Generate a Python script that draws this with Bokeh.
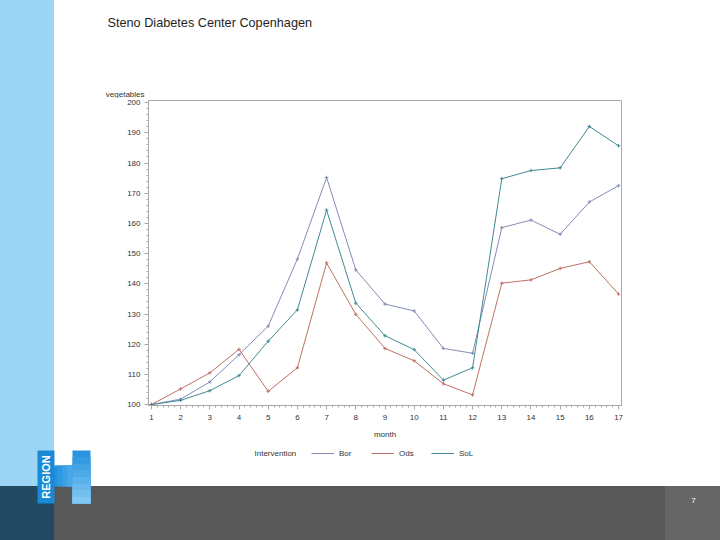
import math
from bokeh.plotting import figure
from bokeh.layouts import column
from bokeh.models import Range1d, FixedTicker, BoxAnnotation, Label, Legend, LegendItem
from bokeh.embed import file_html
from bokeh.resources import INLINE

# ---- data ----
months = list(range(1, 18))
bor = [100.0, 101.8, 107.5, 116.5, 126.0, 148.2, 175.2, 144.6, 133.3, 131.0,
       118.6, 117.0, 158.6, 161.1, 156.4, 167.1, 172.5]
ods = [100.0, 105.2, 110.5, 118.3, 104.4, 112.2, 146.9, 129.9, 118.6, 114.5,
       106.9, 103.2, 140.2, 141.3, 145.1, 147.3, 136.6]
sol = [100.0, 101.4, 104.6, 109.6, 121.0, 131.4, 164.4, 133.6, 122.8, 118.2,
       108.1, 112.2, 174.8, 177.5, 178.4, 192.1, 185.7]
series_names = ["Bor", "Ods", "SoL"]
series_values = [bor, ods, sol]
series_colors = ["#838cb6", "#bf7064", "#418a93"]
y_ticks = list(range(100, 201, 10))
x_ticks = months

FONT = "Liberation Sans"
TXT = "#333333"
GRAY = "#a8a8a8"
LIGHT_BLUE = "#9dd5f4"
DARK_BLUE = "#234a63"
BAR_GRAY = "#585858"
BAR_GRAY2 = "#666666"


def panel(w, h):
    """A transparent figure whose frame is the whole canvas, in pixel units (y down)."""
    f = figure(width=w, height=h, output_backend="svg", toolbar_location=None,
               x_range=Range1d(0, w), y_range=Range1d(h, 0),
               x_axis_type=None, y_axis_type=None,
               min_border=0, min_border_left=0, min_border_right=0,
               min_border_top=0, min_border_bottom=0)
    f.xgrid.visible = False
    f.ygrid.visible = False
    f.outline_line_color = None
    f.background_fill_alpha = 0
    f.border_fill_alpha = 0
    return f


def box(f, l, r, t, b, color):
    f.add_layout(BoxAnnotation(left=l, right=r, top=t, bottom=b,
                               fill_color=color, fill_alpha=1.0,
                               line_alpha=0, level="underlay"))


# ---- top text band ----
band = panel(720, 98)
band.add_layout(Label(x=107, y=22, text="Steno Diabetes Center Copenhagen",
                      text_align="left", text_baseline="middle",
                      text_color="#1e1e1e", text_font=FONT,
                      text_font_size="12.7px"))
band.add_layout(Label(x=144, y=94, text="vegetables", text_align="right",
                      text_baseline="middle", text_color=TXT,
                      text_font=FONT, text_font_size="8px"))

# ---- main chart ----
p = figure(width=720, height=347, output_backend="svg", toolbar_location=None,
           x_range=Range1d(0.9, 17.1), y_range=Range1d(99.7, 200.7),
           min_border_left=148, min_border_right=99,
           min_border_top=2, min_border_bottom=40)
p.xgrid.visible = False
p.ygrid.visible = False
p.outline_line_color = GRAY
p.background_fill_color = "white"
p.border_fill_alpha = 0

for name, ys, col in zip(series_names, series_values, series_colors):
    p.line(months, ys, line_color=col, line_width=1)
    p.scatter(months, ys, marker="cross", size=3.5, line_color=col, line_width=1)

p.yaxis.ticker = FixedTicker(ticks=y_ticks,
                             minor_ticks=[100 + 2 * i for i in range(51)])
p.xaxis.ticker = FixedTicker(ticks=x_ticks,
                             minor_ticks=[1 + 0.2 * i for i in range(81)])
p.xaxis.axis_label = "month"
for ax in (p.xaxis, p.yaxis):
    ax.axis_line_color = GRAY
    ax.major_tick_line_color = GRAY
    ax.minor_tick_line_color = GRAY
    ax.major_tick_out = 4
    ax.major_tick_in = 0
    ax.minor_tick_out = 2
    ax.minor_tick_in = 0
    ax.major_label_text_font = FONT
    ax.major_label_text_font_size = "8px"
    ax.major_label_text_color = TXT
    ax.axis_label_text_font = FONT
    ax.axis_label_text_font_size = "8px"
    ax.axis_label_text_font_style = "normal"
    ax.axis_label_text_color = TXT
p.yaxis.major_label_standoff = 4
p.xaxis.major_label_standoff = 5
p.xaxis.axis_label_standoff = 7

# ---- bottom band: logo, legend, page number ----
bottom = panel(720, 95)
# crossbar of the "H" (overlapping steps so no seams show)
cross_cols = ["#2192dd", "#2e99e0", "#3ca1e4", "#4aa8e7"]
for i, c in enumerate(cross_cols):
    box(bottom, 52 + 5 * i, 76, 20, 41, c)
# right stem, shading lighter downwards
stem_cols = ["#2895de", "#349be1", "#41a3e4", "#4eaae7", "#5bb1ea",
             "#68b8ed", "#75bfef", "#82c6f2"]
for i, c in enumerate(stem_cols):
    box(bottom, 72, 90, 5 + 6.6 * i, 58, c)
# left stem carrying the word
box(bottom, 37, 54, 5, 58, "#1b8ad6")
bottom.add_layout(Label(x=45.5, y=31.5, text="REGION", angle=math.pi / 2,
                        text_align="center", text_baseline="middle",
                        text_color="white", text_font=FONT,
                        text_font_size="11px", text_font_style="bold"))
bottom.add_layout(Label(x=693, y=55, text="7", text_align="center",
                        text_baseline="middle", text_color="white",
                        text_font=FONT, text_font_size="8px"))
bottom.add_layout(Label(x=254, y=8, text="Intervention", text_align="left",
                        text_baseline="middle", text_color=TXT,
                        text_font=FONT, text_font_size="8px"))
items = []
for name, ys, col in zip(series_names, series_values, series_colors):
    # same series; their values lie outside this band's range, so only the key shows
    r = bottom.line(months, ys, line_color=col, line_width=1)
    items.append(LegendItem(label=name, renderers=[r]))
legend = Legend(items=items, orientation="horizontal", location=(311, 82),
                border_line_alpha=0, background_fill_alpha=0, padding=0, margin=0,
                spacing=12, glyph_width=23, glyph_height=10, label_standoff=5,
                label_height=10, label_text_font=FONT, label_text_font_size="8px",
                label_text_color=TXT, label_text_baseline="middle")
bottom.add_layout(legend, "center")

page_bg = (
    f"linear-gradient(to right, {DARK_BLUE} 0px, {DARK_BLUE} 54px, "
    f"{BAR_GRAY} 54px, {BAR_GRAY} 665px, {BAR_GRAY2} 665px, {BAR_GRAY2} 720px) "
    f"left bottom / 720px 54px no-repeat, "
    f"linear-gradient(to right, {LIGHT_BLUE} 0px, {LIGHT_BLUE} 54px, "
    f"#ffffff 54px, #ffffff 720px) left top / 720px 540px no-repeat"
)

layout = column(band, column(p, spacing=0), bottom, spacing=0,
                styles={"background": page_bg})

open("out.html", "w").write(file_html(layout, INLINE))
